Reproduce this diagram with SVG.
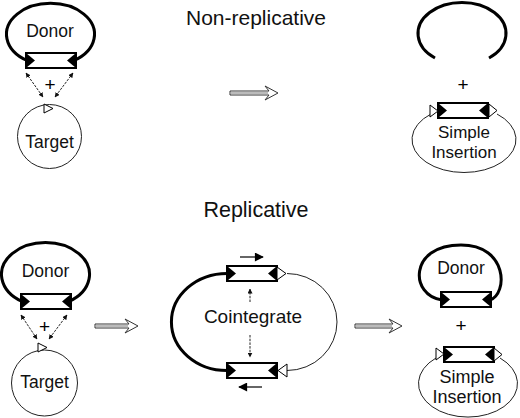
<svg xmlns="http://www.w3.org/2000/svg" xmlns:xlink="http://www.w3.org/1999/xlink" width="520" height="418" viewBox="0 0 520 418">
<style>
.t{font-family:"Liberation Sans",Arial,sans-serif;fill:#111;text-anchor:middle}
.p{font-family:"Liberation Sans",Arial,sans-serif;fill:#000;text-anchor:middle;font-size:19px}
.thick{fill:none;stroke:#000;stroke-width:3}
.thin{fill:none;stroke:#222;stroke-width:1}
.otri{fill:#fff;stroke:#000;stroke-width:1}
.dash{fill:none;stroke:#222;stroke-width:1;stroke-dasharray:2.5 1.2}
.sh{fill:#bbb;stroke:none}
.ah{fill:#fff;stroke:#333;stroke-width:1}
</style>
<defs>
<g id="tn">
<rect x="0" y="0" width="50" height="15" fill="#fff" stroke="#000" stroke-width="2"/>
<polygon points="0,0 0,15 9,7.5" fill="#000"/>
<polygon points="50,0 50,15 41,7.5" fill="#000"/>
</g>
<marker id="ma" viewBox="0 0 10 10" refX="9" refY="5" markerWidth="5" markerHeight="5" orient="auto-start-reverse" markerUnits="userSpaceOnUse">
<path d="M0,0 L10,5 L0,10 z" fill="#111"/>
</marker>
<marker id="mb" viewBox="0 0 10 10" refX="9" refY="5" markerWidth="10" markerHeight="9" orient="auto" markerUnits="userSpaceOnUse">
<path d="M0,0 L10,5 L0,10 z" fill="#000"/>
</marker>
</defs>

<text class="t" x="256" y="25" font-size="21">Non-replicative</text>
<text class="t" x="256" y="217" font-size="21.5">Replicative</text>

<g id="donor1">
<path class="thick" d="M27,60.5 A44,31 0 1 1 74,60.5"/>
<use xlink:href="#tn" x="26" y="53"/>
<text class="t" x="50" y="37" font-size="17.5">Donor</text>
</g>
<g id="target1">
<circle class="thin" cx="49.5" cy="136.5" r="32"/>
<polygon class="otri" points="44,104 44,113 53,108.5"/>
<text class="t" x="49.5" y="148" font-size="17.5">Target</text>
</g>
<text class="p" x="50" y="91">+</text>

<g id="broken">
<path class="thick" d="M435,58 A44,31 0 1 1 489,58"/>
</g>
<text class="p" x="463" y="91">+</text>
<g id="insert1">
<path class="thin" d="M431,114 A52,33 0 1 0 497,114"/>
<use xlink:href="#tn" x="438" y="103"/>
<polygon class="otri" points="430,105 430,117 438,111"/>
<polygon class="otri" points="489,104 489,117 497,110.5"/>
<text class="t" x="464" y="138" font-size="17">Simple</text>
<text class="t" x="464" y="157.5" font-size="17">Insertion</text>
</g>

<g id="donor2">
<path class="thick" d="M22,301.5 A44,32 0 1 1 69,301.5"/>
<use xlink:href="#tn" x="21" y="294"/>
<text class="t" x="45.5" y="277" font-size="17.5">Donor</text>
</g>
<text class="p" x="44.5" y="333">+</text>
<g id="target2">
<circle class="thin" cx="44.5" cy="383" r="33"/>
<polygon class="otri" points="38,343 38,352 47,347.5"/>
<text class="t" x="44.5" y="388" font-size="17.5">Target</text>
</g>

<g id="cointegrate">
<path class="thick" d="M227,273.5 A55,48 0 0 0 227,370.5"/>
<path class="thin" d="M287,273.5 A50,48.5 0 0 1 287,370.5"/>
<use xlink:href="#tn" x="227" y="266"/>
<use xlink:href="#tn" x="227" y="363"/>
<polygon class="otri" points="277,267 277,280 286,273.5"/>
<polygon class="otri" points="287,364 287,377 278,370.5"/>
<text class="t" x="253" y="323" font-size="19">Cointegrate</text>
</g>

<g id="donor3">
<path class="thick" d="M442,300 C410,296 408,245 461,245 C508,245 508,294 490,300"/>
<use xlink:href="#tn" x="441" y="292"/>
<text class="t" x="461" y="274" font-size="17.5">Donor</text>
</g>
<text class="p" x="461" y="332">+</text>
<g id="insert2">
<path class="thin" d="M436,358 A49.5,33.5 0 1 0 500,358"/>
<use xlink:href="#tn" x="444" y="347"/>
<polygon class="otri" points="436,348 436,360 444,354"/>
<polygon class="otri" points="494,348 494,361 502,354.5"/>
<text class="t" x="467" y="383" font-size="18">Simple</text>
<text class="t" x="467" y="402.5" font-size="18">Insertion</text>
</g>

<g id="connectors">
<line class="dash" x1="26" y1="73" x2="43" y2="97" marker-start="url(#ma)" marker-end="url(#ma)"/>
<line class="dash" x1="73" y1="73" x2="55" y2="97" marker-start="url(#ma)" marker-end="url(#ma)"/>
<line class="dash" x1="21" y1="315" x2="37" y2="339" marker-start="url(#ma)" marker-end="url(#ma)"/>
<line class="dash" x1="67" y1="315" x2="49" y2="339" marker-start="url(#ma)" marker-end="url(#ma)"/>
<line class="dash" x1="250" y1="302" x2="250" y2="289" marker-end="url(#ma)"/>
<line class="dash" x1="250" y1="335" x2="250" y2="357" marker-end="url(#ma)"/>
<line stroke="#000" stroke-width="1.2" x1="240" y1="257" x2="263" y2="257" marker-end="url(#mb)"/>
<line stroke="#000" stroke-width="1.2" x1="262" y1="387" x2="239" y2="387" marker-end="url(#mb)"/>
<polygon class="ah" points="230,91 269,91 265,86 278,93 265,100 269,95 230,95"/>
<rect class="sh" x="231" y="92" width="37" height="2"/>
<polygon class="ah" points="95,324 129,324 125,319 138,326 125,333 129,328 95,328"/>
<rect class="sh" x="96" y="325" width="32" height="2"/>
<polygon class="ah" points="355,324 393,324 389,319 402,326 389,333 393,328 355,328"/>
<rect class="sh" x="356" y="325" width="36" height="2"/>
</g>
</svg>
